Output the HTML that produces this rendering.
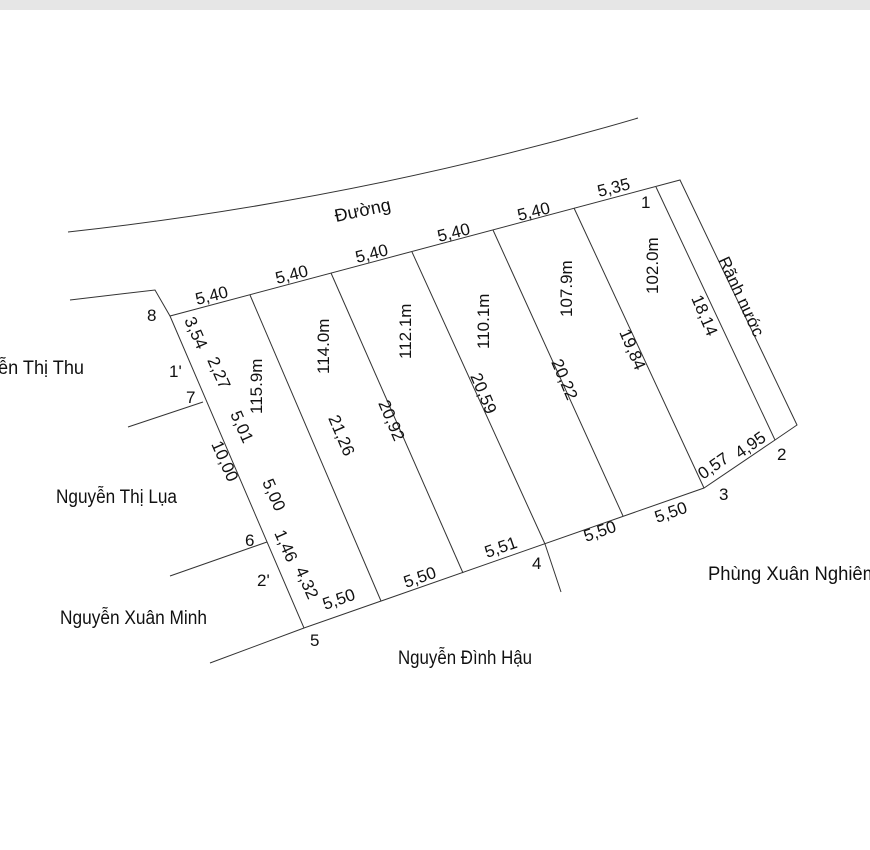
<!DOCTYPE html>
<html><head><meta charset="utf-8"><style>
html,body{margin:0;padding:0;background:#fff;}
svg{display:block;}
text{font-family:"Liberation Sans",sans-serif;fill:#111;}
</style></head><body>
<svg width="870" height="850" viewBox="0 0 870 850" xmlns="http://www.w3.org/2000/svg">
<rect x="0" y="0" width="870" height="850" fill="#fff"/>
<rect x="0" y="0" width="870" height="10" fill="#e6e6e6"/>
<g stroke="#333" stroke-width="1" fill="none">
<path d="M68 232 Q360 200 638 118"/>
<polyline points="70,300 155,290 170,316 680,180 797,425 775,440 704,488 304,628 170,316"/>
<line x1="128" y1="427" x2="203" y2="402"/>
<line x1="170" y1="576" x2="267" y2="542"/>
<line x1="210" y1="663" x2="304" y2="628"/>
<line x1="250" y1="295" x2="381" y2="601"/>
<line x1="331" y1="273" x2="463" y2="573"/>
<line x1="412" y1="252" x2="545" y2="544"/>
<line x1="493" y1="230" x2="623" y2="516"/>
<line x1="574" y1="208" x2="704" y2="488"/>
<line x1="656" y1="187" x2="775" y2="440"/>
<line x1="545" y1="544" x2="561" y2="592"/>
</g>
<g font-size="17">
<text transform="translate(336,222) rotate(-12)" font-size="18">Đường</text>
<text transform="translate(197,305) rotate(-14)">5,40</text>
<text transform="translate(277,284) rotate(-14)">5,40</text>
<text transform="translate(357,263) rotate(-14)">5,40</text>
<text transform="translate(439,242) rotate(-14)">5,40</text>
<text transform="translate(519,221) rotate(-14)">5,40</text>
<text transform="translate(599,197) rotate(-14)">5,35</text>
<text x="641" y="208">1</text>
<text x="147" y="321">8</text>
<text x="169" y="377">1'</text>
<text x="186" y="403">7</text>
<text x="245" y="546">6</text>
<text x="257" y="586">2'</text>
<text x="310" y="646">5</text>
<text x="532" y="569">4</text>
<text x="719" y="500">3</text>
<text x="777" y="460">2</text>
<text transform="translate(184,320) rotate(66)">3,54</text>
<text transform="translate(207,360) rotate(66)">2,27</text>
<text transform="translate(230,414) rotate(66)">5,01</text>
<text transform="translate(211,444) rotate(66)">10,00</text>
<text transform="translate(262,482) rotate(66)">5,00</text>
<text transform="translate(274,533) rotate(66)">1,46</text>
<text transform="translate(295,570) rotate(66)">4,32</text>
<text transform="translate(262,414) rotate(-90)">115.9m</text>
<text transform="translate(329,374) rotate(-90)">114.0m</text>
<text transform="translate(411,359) rotate(-90)">112.1m</text>
<text transform="translate(489,349) rotate(-90)">110.1m</text>
<text transform="translate(572,317) rotate(-90)">107.9m</text>
<text transform="translate(658,294) rotate(-90)">102.0m</text>
<text transform="translate(328,418) rotate(67)">21,26</text>
<text transform="translate(378,403) rotate(67)">20,92</text>
<text transform="translate(470,376) rotate(67)">20,59</text>
<text transform="translate(551,362) rotate(67)">20,22</text>
<text transform="translate(619,332) rotate(67)">19,84</text>
<text transform="translate(691,298) rotate(67)">18,14</text>
<text transform="translate(718,260) rotate(65)" font-size="17">Rãnh nước</text>
<text transform="translate(325,610) rotate(-19)">5,50</text>
<text transform="translate(406,588) rotate(-19)">5,50</text>
<text transform="translate(487,558) rotate(-19)">5,51</text>
<text transform="translate(586,542) rotate(-19)">5,50</text>
<text transform="translate(657,523) rotate(-19)">5,50</text>
<text transform="translate(703,480) rotate(-35)">0,57</text>
<text transform="translate(740,459) rotate(-35)">4,95</text>
</g>
<g font-size="19">
<text x="-2" y="374" textLength="86" lengthAdjust="spacingAndGlyphs">ễn Thị Thu</text>
<text x="56" y="503" textLength="121" lengthAdjust="spacingAndGlyphs">Nguyễn Thị Lụa</text>
<text x="60" y="624" textLength="147" lengthAdjust="spacingAndGlyphs">Nguyễn Xuân Minh</text>
<text x="398" y="664" textLength="134" lengthAdjust="spacingAndGlyphs">Nguyễn Đình Hậu</text>
<text x="708" y="580" textLength="170" lengthAdjust="spacingAndGlyphs">Phùng Xuân Nghiêm</text>
</g>
</svg>
</body></html>
